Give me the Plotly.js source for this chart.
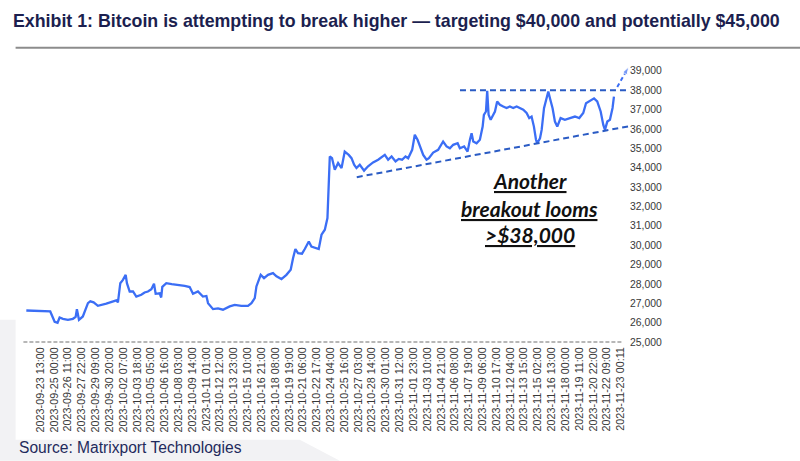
<!DOCTYPE html>
<html>
<head>
<meta charset="utf-8">
<script src="https://cdn.plot.ly/plotly-3.0.1.min.js"></script>
<style>
  html, body { margin: 0; padding: 0; background: #ffffff; }
  #chart { width: 800px; height: 461px; }
</style>
</head>
<body>
<div id="chart"></div>
<script>
// ---- x tick labels (one every 35 hourly points) ----
const tickLabels = [
  "2023-09-23 13:00","2023-09-25 00:00","2023-09-26 11:00","2023-09-27 22:00","2023-09-29 09:00",
  "2023-09-30 20:00","2023-10-02 07:00","2023-10-03 18:00","2023-10-05 05:00","2023-10-06 16:00",
  "2023-10-08 03:00","2023-10-09 14:00","2023-10-11 01:00","2023-10-12 12:00","2023-10-13 23:00",
  "2023-10-15 10:00","2023-10-16 21:00","2023-10-18 08:00","2023-10-19 19:00","2023-10-21 06:00",
  "2023-10-22 17:00","2023-10-24 04:00","2023-10-25 16:00","2023-10-27 03:00","2023-10-28 14:00",
  "2023-10-30 01:00","2023-10-31 12:00","2023-11-01 23:00","2023-11-03 10:00","2023-11-04 21:00",
  "2023-11-06 08:00","2023-11-07 19:00","2023-11-09 06:00","2023-11-10 17:00","2023-11-12 04:00",
  "2023-11-13 15:00","2023-11-15 02:00","2023-11-16 13:00","2023-11-18 00:00","2023-11-19 11:00",
  "2023-11-20 22:00","2023-11-22 09:00","2023-11-23 00:11"
];
const tickPos = tickLabels.map((_, i) => i);

// ---- BTC price series (position in tick-label units, price in USD) ----
const btcX = [
  -1.01,0.72,1.04,1.25,1.40,1.64,2.00,2.36,2.56,2.65,2.80,3.08,3.45,3.62,3.86,4.17,4.78,5.26,5.50,5.62,
  5.79,5.98,6.18,6.27,6.47,6.71,6.95,7.31,7.55,7.79,8.04,8.23,8.35,8.64,8.75,8.83,9.12,9.51,9.96,10.45,
  10.81,11.05,11.41,11.77,12.02,12.14,12.50,12.86,13.22,13.71,14.07,14.55,15.03,15.28,15.52,15.64,15.95,16.19,16.48,16.84,
  17.09,17.45,17.81,18.12,18.29,18.46,18.65,18.94,19.14,19.43,19.62,19.99,20.15,20.35,20.59,20.78,20.88,20.95,21.11,21.31,
  21.55,21.80,22.03,22.32,22.52,22.71,22.88,23.12,23.43,23.72,24.08,24.45,24.93,25.17,25.42,25.71,25.94,26.18,26.43,26.62,
  26.91,27.10,27.30,27.54,27.71,27.95,28.12,28.43,28.79,29.15,29.40,29.64,29.88,30.20,30.36,30.67,30.92,31.09,31.21,31.33,
  31.57,31.81,32.01,32.10,32.25,32.34,32.44,32.59,32.73,32.90,33.06,33.26,33.50,33.74,33.98,34.22,34.47,34.71,34.95,35.19,
  35.38,35.55,35.72,35.87,35.96,36.16,36.28,36.45,36.59,36.76,36.88,37.07,37.24,37.41,37.65,37.96,38.33,38.69,39.00,39.29,
  39.49,39.78,40.07,40.30,40.55,40.74,40.86,41.03,41.22,41.41,41.51
];
const btcPrice = [
  26630,26580,26050,26000,26270,26200,26150,26200,26300,26700,26150,26320,27010,27100,27050,26870,26980,27100,27150,27050,
  28040,28210,28470,28040,27610,27610,27350,27440,27560,27610,27730,28010,27490,27520,27300,27850,28040,27990,27960,27900,
  27840,27490,27610,27350,27380,27010,26700,26740,26670,26840,26920,26870,26870,27010,27270,27870,28470,28300,28470,28560,
  28390,28250,28470,28730,29330,29800,29590,29560,29800,30190,29930,29850,29800,30540,30800,31400,33200,34580,34490,33890,
  34240,33980,34830,34660,34490,34150,33980,34150,33850,34070,34270,34410,34660,34410,34580,34320,34450,34410,34580,34490,
  34920,35700,35440,34920,34660,34410,34490,34780,34920,35350,35100,35000,35180,35260,35000,35100,34830,35440,35780,35350,
  35260,35440,36120,36730,36900,37970,36730,36470,36640,36900,37420,37250,37160,37080,37160,37080,37160,37080,36990,36820,
  36560,36640,36120,35440,35260,35520,35950,37070,37500,37930,37580,37070,36380,36120,36560,36470,36560,36640,36560,36820,
  37330,37470,37580,37420,36900,36210,35950,36380,36470,37080,37670
];

// ---- annotation lines (support, resistance, breakout arrow) ----
const supportX = [22.9, 42.9];
const supportY = [33510, 36180];
const resistanceX = [30.37, 42.9];
const resistanceY = [38000, 38000];
const arrowX = [41.75, 42.58];
const arrowY = [38170, 39200];

const yTicks = [25000,26000,27000,28000,29000,30000,31000,32000,33000,34000,35000,36000,37000,38000,39000];
const yTickText = yTicks.map(v => v.toLocaleString('en-US'));

const calloutLines = ["Another", "breakout looms", ">$38,000"];
const calloutY = [33338, 31914, 30537];
const titleText = "Exhibit 1: Bitcoin is attempting to break higher \u2014 targeting $40,000 and potentially $45,000";
const sourceText = "Source: Matrixport Technologies";

// ---- layout geometry (pixels) ----
const W = 800, H = 461;
const PL = 23.4, PW = 605.6, PT = 65.2, PH = 279;
const px2paperX = p => (p - PL) / PW;
const py2paperY = p => (PT + PH - p) / PH;

const traces = [
  { x: btcX, y: btcPrice, type: 'scatter', mode: 'lines',
    line: { color: '#3b6ef5', width: 2.3 }, hoverinfo: 'skip', showlegend: false },
  { x: supportX, y: supportY, type: 'scatter', mode: 'lines',
    line: { color: '#2a5bc4', width: 2, dash: '6px,4px' }, hoverinfo: 'skip', showlegend: false, cliponaxis: false },
  { x: resistanceX, y: resistanceY, type: 'scatter', mode: 'lines',
    line: { color: '#2a5bc4', width: 2, dash: '6px,4px' }, hoverinfo: 'skip', showlegend: false, cliponaxis: false },
  { x: arrowX, y: arrowY, type: 'scatter', mode: 'lines+markers',
    line: { color: '#3b6ef5', width: 2, dash: '4px,3px' },
    marker: { symbol: 'arrow', size: [0, 8], angleref: 'previous', color: '#3b6ef5' },
    hoverinfo: 'skip', showlegend: false, cliponaxis: false }
];

const annotations = calloutLines.map((t, i) => ({
  x: 35.43, y: calloutY[i], xref: 'x', yref: 'y',
  text: '<b><i><u>' + t + '</u></i></b>', showarrow: false,
  font: { family: 'Lato, "Liberation Sans", sans-serif', size: 21, color: '#111111' },
  xanchor: 'center', yanchor: 'middle'
}));
annotations.push({
  x: px2paperX(17), y: py2paperY(448), xref: 'paper', yref: 'paper',
  text: sourceText, showarrow: false, xanchor: 'left', yanchor: 'middle',
  font: { family: '"Liberation Sans", Arial, sans-serif', size: 15.6, color: '#1f2a5c' }
});

const shapes = [
  // light grey slide background band bottom-left
  { type: 'path', xref: 'paper', yref: 'paper', layer: 'below',
    path: 'M ' + px2paperX(0) + ' ' + py2paperY(320) + ' L ' + px2paperX(16) + ' ' + py2paperY(320) +
          ' L ' + px2paperX(16) + ' ' + py2paperY(440) + ' L ' + px2paperX(300) + ' ' + py2paperY(440) +
          ' L ' + px2paperX(340) + ' ' + py2paperY(461) + ' L ' + px2paperX(0) + ' ' + py2paperY(461) + ' Z',
    fillcolor: '#f2f2f4', line: { width: 0 } },
  // grey rule under title
  { type: 'line', xref: 'paper', yref: 'paper',
    x0: px2paperX(16), x1: px2paperX(800), y0: py2paperY(48), y1: py2paperY(48),
    line: { color: '#8c8c8c', width: 2 } },
  // dashed x axis baseline at 25,000
  { type: 'line', xref: 'x', yref: 'y', x0: -1.22, x1: 42.15, y0: 25000, y1: 25000,
    line: { color: '#a0a0a0', width: 1.5, dash: '4px,2px' } }
];

const layout = {
  width: W, height: H,
  margin: { l: PL, r: W - PL - PW, t: PT, b: H - PT - PH, pad: 0, autoexpand: false },
  paper_bgcolor: '#ffffff', plot_bgcolor: 'rgba(0,0,0,0)',
  title: {
    text: '<b>' + titleText + '</b>',
    x: 13 / W, xanchor: 'left', xref: 'container',
    y: 1 - 21 / H, yanchor: 'middle', yref: 'container',
    font: { family: '"Liberation Sans Narrow", "Arial Narrow", "Liberation Sans", Arial, sans-serif', size: 17.8, color: '#1c1f4f' }
  },
  xaxis: {
    range: [-1.25, 42.6], tickmode: 'array', tickvals: tickPos, ticktext: tickLabels,
    tickangle: -90, ticks: '', showgrid: false, zeroline: false, showline: false,
    tickfont: { family: '"Liberation Sans", Arial, sans-serif', size: 10.8, color: '#383838' },
    fixedrange: true, automargin: false
  },
  yaxis: {
    side: 'right', range: [24900, 39300], tickmode: 'array', tickvals: yTicks, ticktext: yTickText,
    ticks: '', showgrid: false, zeroline: false, showline: false,
    tickfont: { family: '"Liberation Sans", Arial, sans-serif', size: 10.4, color: '#383838' },
    fixedrange: true, automargin: false
  },
  showlegend: false,
  shapes: shapes,
  annotations: annotations
};

Plotly.newPlot('chart', traces, layout, { staticPlot: true, displayModeBar: false });
</script>
</body>
</html>
